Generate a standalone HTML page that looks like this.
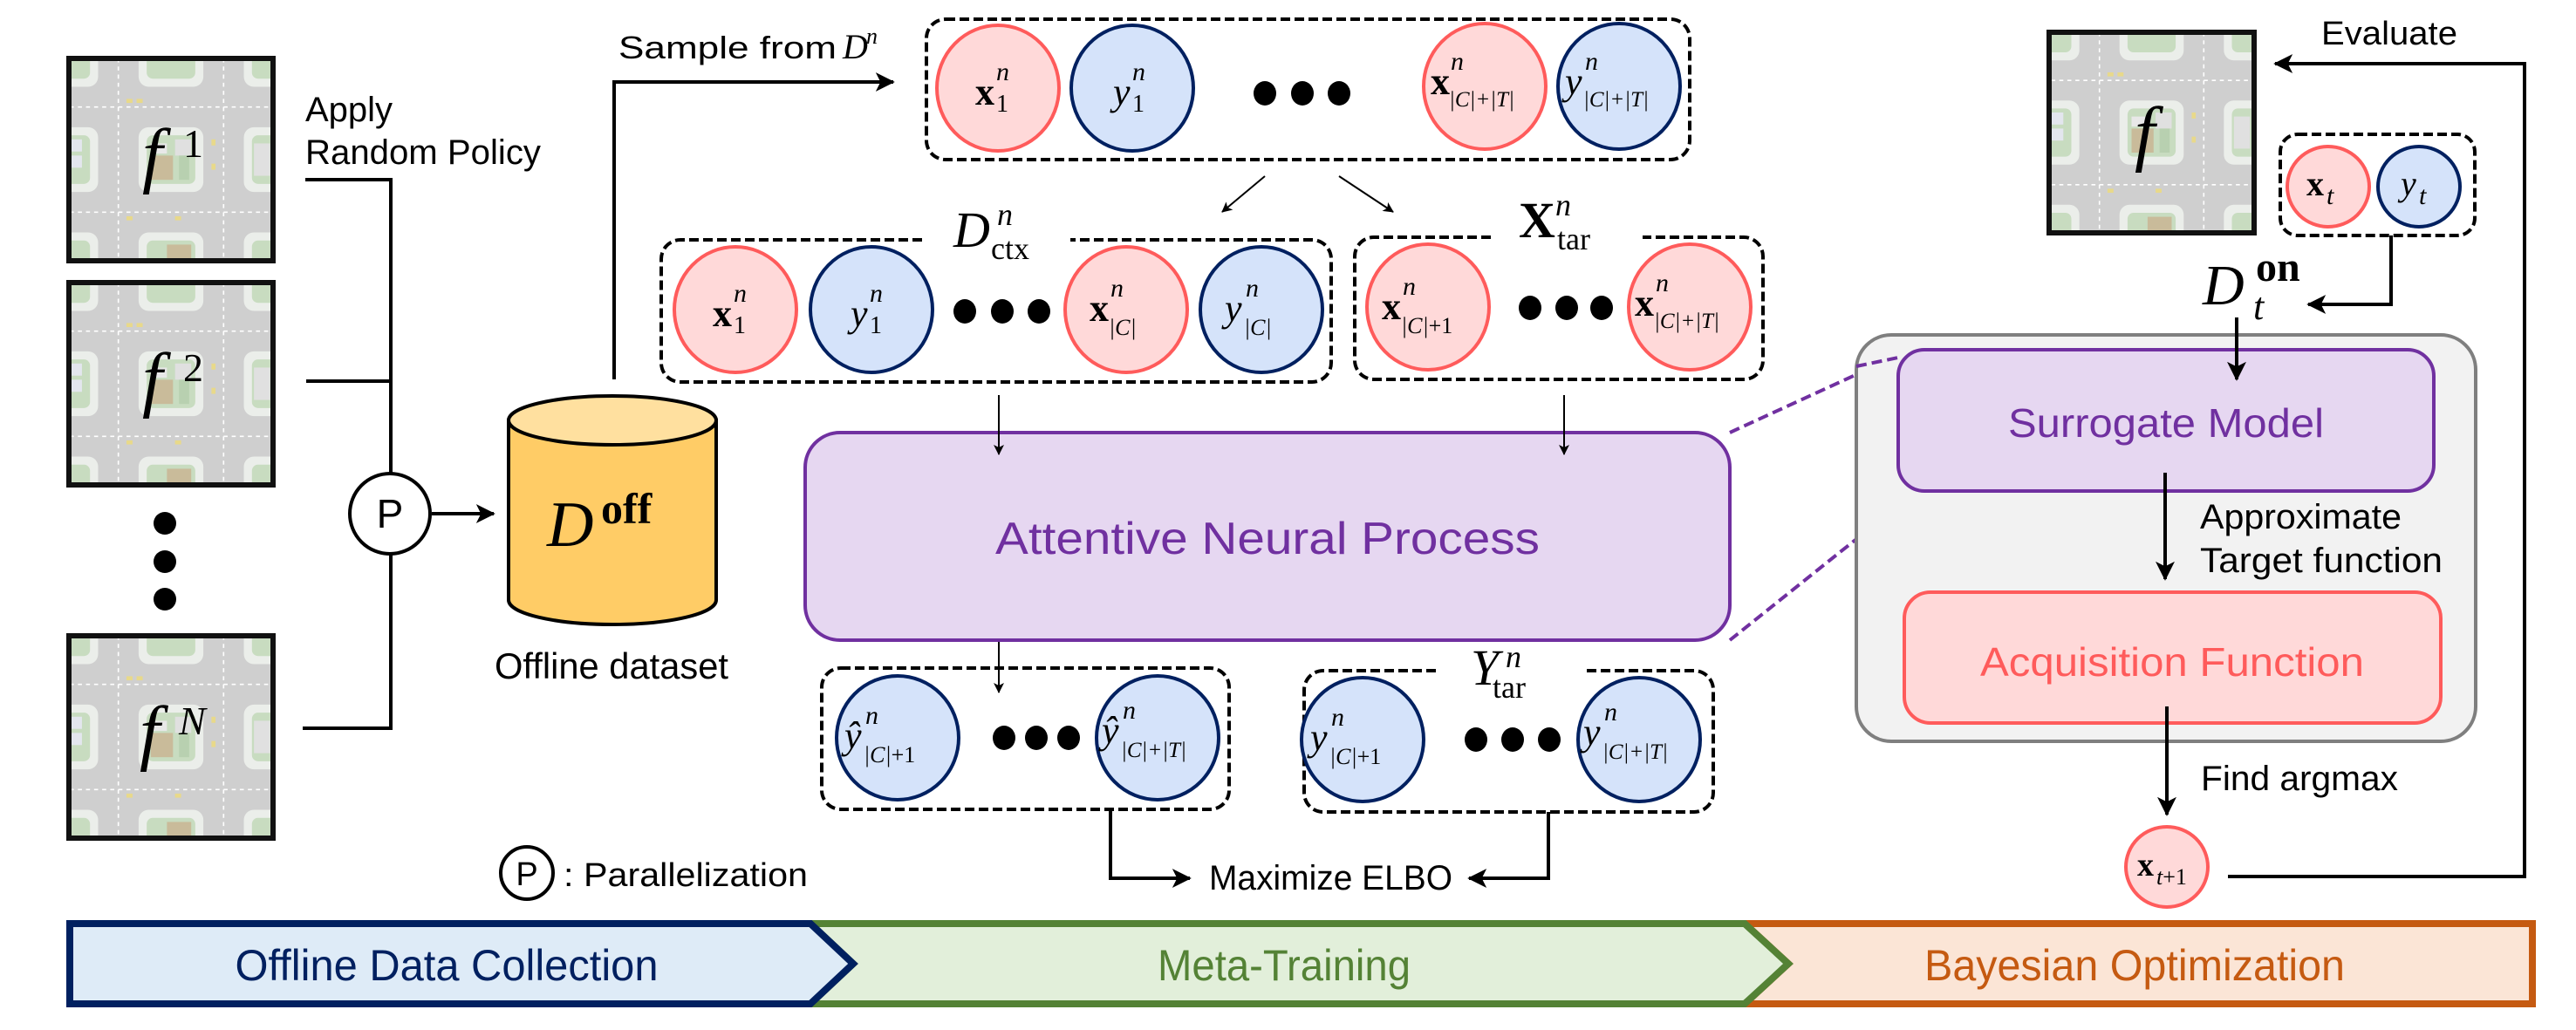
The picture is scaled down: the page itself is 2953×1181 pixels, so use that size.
<!DOCTYPE html>
<html><head><meta charset="utf-8"><style>
html,body{margin:0;padding:0;background:#fff}
svg{display:block}
.t{font-family:"Liberation Sans",sans-serif;fill:#000}
.m{font-family:"Liberation Serif",serif}
</style></head><body>
<svg width="2953" height="1181" viewBox="0 0 2953 1181" xmlns="http://www.w3.org/2000/svg">
<defs>
<marker id="ah" viewBox="0 0 12 12" refX="11" refY="6" markerWidth="12" markerHeight="12" markerUnits="userSpaceOnUse" orient="auto"><path d="M0,0 L12,6 L0,12 L3,6 Z" fill="#000"/></marker>
<marker id="ab" viewBox="0 0 12 12" refX="11" refY="6" markerWidth="22" markerHeight="22" markerUnits="userSpaceOnUse" orient="auto"><path d="M0,0 L12,6 L0,12 L3,6 Z" fill="#000"/></marker>
<symbol id="map" viewBox="0 0 100 100">
<rect width="100" height="100" fill="#cfcfcf" stroke="none"/>
<g fill="#ebeeea" stroke="none">
<rect x="-14" y="-14" width="28" height="28" rx="5"/><rect x="34" y="-14" width="32" height="28" rx="5"/><rect x="86" y="-14" width="28" height="28" rx="5"/>
<rect x="-14" y="34" width="28" height="32" rx="5"/><rect x="34" y="34" width="32" height="32" rx="5"/><rect x="86" y="34" width="28" height="32" rx="5"/>
<rect x="-14" y="86" width="28" height="28" rx="5"/><rect x="34" y="86" width="32" height="28" rx="5"/><rect x="86" y="86" width="28" height="28" rx="5"/>
</g>
<g fill="#c8dcc0" stroke="none">
<rect x="-10" y="-10" width="20" height="20" rx="3"/><rect x="38" y="-10" width="24" height="20" rx="3"/><rect x="90" y="-10" width="20" height="20" rx="3"/>
<rect x="-10" y="38" width="20" height="24" rx="3"/><rect x="38" y="38" width="24" height="24" rx="3"/><rect x="90" y="38" width="20" height="24" rx="3"/>
<rect x="-10" y="90" width="20" height="20" rx="3"/><rect x="38" y="90" width="24" height="20" rx="3"/><rect x="90" y="90" width="20" height="20" rx="3"/>
</g>
<g stroke="none">
<rect x="40" y="48" width="11" height="12" fill="#c9bb9a"/><rect x="40" y="42" width="8" height="5" fill="#e8e8e8"/>
<rect x="52" y="40" width="8" height="8" fill="#e0e0e0"/><rect x="54" y="48" width="5" height="12" fill="#b8d0b0"/>
<rect x="48" y="92" width="12" height="10" fill="#c9bb9a"/>
<rect x="-2" y="40" width="8" height="6" fill="#e3e6ee"/><rect x="-2" y="48" width="8" height="6" fill="#e3e6ee"/><rect x="91" y="42" width="8" height="16" fill="#e0e0e0"/>
</g>
<g stroke="#fff" stroke-width="0.7" stroke-dasharray="2 2" fill="none"><line x1="0" y1="24" x2="100" y2="24"/><line x1="0" y1="76" x2="100" y2="76"/><line x1="24" y1="0" x2="24" y2="100"/><line x1="76" y1="0" x2="76" y2="100"/></g>
<g fill="#e8d98a" stroke="none"><rect x="28" y="20" width="3" height="2"/><rect x="33" y="20" width="3" height="2"/><rect x="70" y="40" width="2" height="3"/><rect x="70" y="52" width="2" height="3"/><rect x="28" y="78" width="3" height="2"/><rect x="52" y="78" width="3" height="2"/></g>
</symbol>
</defs>

<!-- banners -->
<polygon points="2000,1059 2903,1059 2903,1151 2000,1151 2050,1105" fill="#fbe5d6" stroke="#c55a11" stroke-width="8"/>
<polygon points="929,1059 2000,1059 2050,1105 2000,1151 929,1151 978,1105" fill="#e2efda" stroke="#548235" stroke-width="8"/>
<polygon points="80,1059 929,1059 978,1105 929,1151 80,1151" fill="#deebf7" stroke="#002060" stroke-width="8"/>
<text class="t" x="512" y="1124" font-size="50" text-anchor="middle" style="fill:#002060" textLength="485" lengthAdjust="spacingAndGlyphs">Offline Data Collection</text>
<text class="t" x="1472" y="1124" font-size="50" text-anchor="middle" style="fill:#548235" textLength="290" lengthAdjust="spacingAndGlyphs">Meta-Training</text>
<text class="t" x="2447" y="1124" font-size="50" text-anchor="middle" style="fill:#c55a11" textLength="482" lengthAdjust="spacingAndGlyphs">Bayesian Optimization</text>

<!-- left tiles -->
<use href="#map" x="79" y="67" width="234" height="232"/>
<use href="#map" x="79" y="324" width="234" height="232"/>
<use href="#map" x="79" y="729" width="234" height="232"/>
<g stroke="#111" stroke-width="6" fill="none">
<rect x="79" y="67" width="234" height="232"/>
<rect x="79" y="324" width="234" height="232"/>
<rect x="79" y="729" width="234" height="232"/>
</g>
<g class="m" font-style="italic" fill="#000">
<text x="163" y="205" font-size="84">f</text><text x="210" y="180" font-size="46" font-style="normal">1</text>
<text x="163" y="462" font-size="84">f</text><text x="210" y="437" font-size="46" font-style="normal">2</text>
<text x="160" y="867" font-size="84">f</text><text x="205" y="842" font-size="46">N</text>
</g>
<circle cx="189" cy="600" r="13"/><circle cx="189" cy="644" r="13"/><circle cx="189" cy="687" r="13"/>
<text class="t" x="350" y="139" font-size="40">Apply</text>
<text class="t" x="350" y="188" font-size="40" textLength="270" lengthAdjust="spacingAndGlyphs">Random Policy</text>
<g stroke="#000" stroke-width="4" fill="none">
<polyline points="350,206 448,206 448,542"/><polyline points="351,437 448,437"/><polyline points="347,835 448,835 448,636"/>
<line x1="495" y1="589" x2="566" y2="589" marker-end="url(#ab)"/>
</g>
<circle cx="447" cy="589" r="46" fill="#fff" stroke="#000" stroke-width="4"/>
<text class="t" x="447" y="605" font-size="46" text-anchor="middle">P</text>
<!-- cylinder -->
<path d="M583,482 V688 A119,28 0 0 0 821,688 V482 Z" fill="#ffcc66" stroke="#000" stroke-width="4"/>
<ellipse cx="702" cy="482" rx="119" ry="28" fill="#ffe09f" stroke="#000" stroke-width="4"/>
<text class="m" x="627" y="626" font-size="74" font-style="italic">D</text>
<text class="m" x="689" y="600" font-size="50" font-weight="bold">off</text>
<text class="t" x="567" y="778" font-size="42" textLength="268" lengthAdjust="spacingAndGlyphs">Offline dataset</text>
<circle cx="604" cy="1001" r="30" fill="#fff" stroke="#000" stroke-width="4"/>
<text class="t" x="604" y="1015" font-size="38" text-anchor="middle">P</text>
<text class="t" x="646" y="1016" font-size="38" textLength="280" lengthAdjust="spacingAndGlyphs">: Parallelization</text>

<!-- sample -->
<polyline points="704,435 704,94 1024,94" fill="none" stroke="#000" stroke-width="4" marker-end="url(#ab)"/>
<text class="t" x="709" y="67" font-size="36" textLength="250" lengthAdjust="spacingAndGlyphs">Sample from</text>
<text class="m" x="966" y="67" font-size="40" font-style="italic">D</text><text class="m" x="993" y="50" font-size="26" font-style="italic">n</text>

<!-- dashed boxes -->
<g fill="none" stroke="#000" stroke-width="4" stroke-dasharray="11 5">
<rect x="1062" y="22" width="875" height="161" rx="22"/>
<path d="M1057,275 H780 A22,22 0 0 0 758,297 V416 A22,22 0 0 0 780,438 H1504 A22,22 0 0 0 1526,416 V297 A22,22 0 0 0 1504,275 H1227"/>
<path d="M1709,272 H1575 A22,22 0 0 0 1553,294 V413 A22,22 0 0 0 1575,435 H1999 A22,22 0 0 0 2021,413 V294 A22,22 0 0 0 1999,272 H1883"/>
<rect x="942" y="766" width="467" height="162" rx="22"/>
<path d="M1646,769 H1517 A22,22 0 0 0 1495,791 V909 A22,22 0 0 0 1517,931 H1942 A22,22 0 0 0 1964,909 V791 A22,22 0 0 0 1942,769 H1818"/>
<rect x="2614" y="154" width="223" height="116" rx="20"/>
</g>

<!-- circles -->
<g stroke-width="4">
<g fill="#ffd9d9" stroke="#ff5b5b">
<ellipse cx="1144" cy="101" rx="70" ry="72"/><ellipse cx="1702" cy="99" rx="70" ry="72"/>
<ellipse cx="843" cy="355" rx="70" ry="72"/><ellipse cx="1291" cy="355" rx="70" ry="72"/>
<ellipse cx="1637" cy="352" rx="70" ry="72"/><ellipse cx="1937" cy="352" rx="70" ry="72"/>
<ellipse cx="2669" cy="214" rx="47" ry="46"/><ellipse cx="2484" cy="994" rx="47" ry="46"/>
</g>
<g fill="#d5e3fa" stroke="#002060">
<ellipse cx="1298" cy="101" rx="70" ry="72"/><ellipse cx="1856" cy="99" rx="70" ry="72"/>
<ellipse cx="999" cy="355" rx="70" ry="72"/><ellipse cx="1446" cy="355" rx="70" ry="72"/>
<ellipse cx="1029" cy="846" rx="70" ry="71"/><ellipse cx="1327" cy="846" rx="70" ry="71"/>
<ellipse cx="1562" cy="848" rx="70" ry="71"/><ellipse cx="1879" cy="848" rx="70" ry="71"/>
<ellipse cx="2773" cy="214" rx="47" ry="46"/>
</g>
</g>
<!-- dots -->
<g fill="#000">
<ellipse cx="1450" cy="107" rx="13" ry="14"/><ellipse cx="1493" cy="107" rx="13" ry="14"/><ellipse cx="1535" cy="107" rx="13" ry="14"/>
<ellipse cx="1106" cy="357" rx="13" ry="14"/><ellipse cx="1149" cy="357" rx="13" ry="14"/><ellipse cx="1191" cy="357" rx="13" ry="14"/>
<ellipse cx="1754" cy="353" rx="13" ry="14"/><ellipse cx="1796" cy="353" rx="13" ry="14"/><ellipse cx="1836" cy="353" rx="13" ry="14"/>
<ellipse cx="1151" cy="846" rx="13" ry="14"/><ellipse cx="1188" cy="846" rx="13" ry="14"/><ellipse cx="1225" cy="846" rx="13" ry="14"/>
<ellipse cx="1692" cy="848" rx="13" ry="14"/><ellipse cx="1734" cy="848" rx="13" ry="14"/><ellipse cx="1776" cy="848" rx="13" ry="14"/>
</g>

<!-- circle labels -->
<g class="m" fill="#000">
<text x="1118" y="120" font-size="44" font-weight="bold">x</text><text x="1142" y="92" font-size="30" font-style="italic">n</text><text x="1142" y="128" font-size="28">1</text>
<text x="1276" y="120" font-size="44" font-style="italic">y</text><text x="1298" y="92" font-size="30" font-style="italic">n</text><text x="1298" y="128" font-size="28">1</text>
<text x="1640" y="108" font-size="44" font-weight="bold">x</text><text x="1663" y="80" font-size="30" font-style="italic">n</text><text x="1661" y="122" font-size="25" font-style="italic">|C|+|T|</text>
<text x="1794" y="108" font-size="44" font-style="italic">y</text><text x="1817" y="80" font-size="30" font-style="italic">n</text><text x="1815" y="122" font-size="25" font-style="italic">|C|+|T|</text>
<text x="817" y="374" font-size="44" font-weight="bold">x</text><text x="841" y="346" font-size="30" font-style="italic">n</text><text x="841" y="382" font-size="28">1</text>
<text x="975" y="374" font-size="44" font-style="italic">y</text><text x="997" y="346" font-size="30" font-style="italic">n</text><text x="997" y="382" font-size="28">1</text>
<text x="1249" y="368" font-size="44" font-weight="bold">x</text><text x="1273" y="340" font-size="30" font-style="italic">n</text><text x="1271" y="384" font-size="26" font-style="italic">|C|</text>
<text x="1404" y="368" font-size="44" font-style="italic">y</text><text x="1428" y="340" font-size="30" font-style="italic">n</text><text x="1426" y="384" font-size="26" font-style="italic">|C|</text>
<text x="1584" y="366" font-size="44" font-weight="bold">x</text><text x="1608" y="338" font-size="30" font-style="italic">n</text><text x="1606" y="382" font-size="26"><tspan font-style="italic">|C|</tspan>+1</text>
<text x="1874" y="362" font-size="44" font-weight="bold">x</text><text x="1898" y="334" font-size="30" font-style="italic">n</text><text x="1896" y="376" font-size="25" font-style="italic">|C|+|T|</text>
<text x="968" y="858" font-size="44" font-style="italic">ŷ</text><text x="992" y="830" font-size="30" font-style="italic">n</text><text x="990" y="874" font-size="26"><tspan font-style="italic">|C|</tspan>+1</text>
<text x="1263" y="852" font-size="44" font-style="italic">ŷ</text><text x="1287" y="824" font-size="30" font-style="italic">n</text><text x="1285" y="868" font-size="25" font-style="italic">|C|+|T|</text>
<text x="1502" y="860" font-size="44" font-style="italic">y</text><text x="1526" y="832" font-size="30" font-style="italic">n</text><text x="1524" y="876" font-size="26"><tspan font-style="italic">|C|</tspan>+1</text>
<text x="1815" y="854" font-size="44" font-style="italic">y</text><text x="1839" y="826" font-size="30" font-style="italic">n</text><text x="1837" y="870" font-size="25" font-style="italic">|C|+|T|</text>
<text x="2644" y="224" font-size="40" font-weight="bold">x</text><text x="2667" y="234" font-size="30" font-style="italic">t</text>
<text x="2752" y="224" font-size="40" font-style="italic">y</text><text x="2773" y="234" font-size="30" font-style="italic">t</text>
<text x="2450" y="1004" font-size="38" font-weight="bold">x</text><text x="2472" y="1014" font-size="26"><tspan font-style="italic">t</tspan>+1</text>
<text x="1093" y="283" font-size="58" font-style="italic">D</text><text x="1143" y="258" font-size="36" font-style="italic">n</text><text x="1136" y="297" font-size="36">ctx</text>
<text x="1741" y="272" font-size="58" font-weight="bold">X</text><text x="1783" y="247" font-size="36" font-style="italic">n</text><text x="1785" y="286" font-size="36">tar</text>
<text x="1686" y="785" font-size="58" font-style="italic">Y</text><text x="1726" y="765" font-size="36" font-style="italic">n</text><text x="1711" y="800" font-size="36">tar</text>
<text x="2525" y="349" font-size="66" font-style="italic">D</text><text x="2586" y="322" font-size="48" font-weight="bold">on</text><text x="2583" y="366" font-size="44" font-style="italic">t</text>
</g>

<!-- thin arrows -->
<g stroke="#000" stroke-width="2" fill="none">
<line x1="1450" y1="202" x2="1401" y2="243" marker-end="url(#ah)"/>
<line x1="1535" y1="202" x2="1597" y2="243" marker-end="url(#ah)"/>
<line x1="1145" y1="726" x2="1145" y2="794" marker-end="url(#ah)"/>
</g>

<!-- ANP -->
<rect x="923" y="496" width="1060" height="238" rx="40" fill="#e6d7f1" stroke="#7030a0" stroke-width="4"/>
<line x1="1145" y1="453" x2="1145" y2="521" stroke="#000" stroke-width="2" marker-end="url(#ah)"/>
<line x1="1793" y1="453" x2="1793" y2="521" stroke="#000" stroke-width="2" marker-end="url(#ah)"/>
<text class="t" x="1453" y="635" font-size="52" text-anchor="middle" style="fill:#7030a0" textLength="624" lengthAdjust="spacingAndGlyphs">Attentive Neural Process</text>

<!-- maximize -->
<g stroke="#000" stroke-width="4" fill="none">
<polyline points="1273,928 1273,1007 1364,1007" marker-end="url(#ab)"/>
<polyline points="1775,931 1775,1007 1684,1007" marker-end="url(#ab)"/>
</g>
<text class="t" x="1386" y="1020" font-size="40" textLength="279" lengthAdjust="spacingAndGlyphs">Maximize ELBO</text>

<!-- purple dashed -->
<g stroke="#7030a0" stroke-width="4" stroke-dasharray="12 6">
<line x1="1983" y1="496" x2="2190" y2="401"/><line x1="1983" y1="734" x2="2197" y2="563"/>
</g>

<!-- right side -->
<use href="#map" x="2349" y="37" width="235" height="230"/>
<rect x="2349" y="37" width="235" height="230" fill="none" stroke="#111" stroke-width="6"/>
<text class="m" x="2447" y="180" font-size="84" font-style="italic">f</text>
<text class="t" x="2661" y="51" font-size="38" textLength="156" lengthAdjust="spacingAndGlyphs">Evaluate</text>
<g stroke="#000" stroke-width="4" fill="none">
<polyline points="2554,1005 2894,1005 2894,73 2608,73" marker-end="url(#ab)"/>
<polyline points="2741,270 2741,349 2646,349" marker-end="url(#ab)"/>
</g>
<rect x="2128" y="384" width="710" height="466" rx="40" fill="#f2f2f2" stroke="#7f7f7f" stroke-width="4"/>
<line x1="2128" y1="420" x2="2176" y2="410" stroke="#7030a0" stroke-width="4" stroke-dasharray="12 6"/>
<rect x="2176" y="401" width="614" height="162" rx="30" fill="#e6d7f1" stroke="#7030a0" stroke-width="4"/>
<text class="t" x="2483" y="501" font-size="46" text-anchor="middle" style="fill:#7030a0" textLength="362" lengthAdjust="spacingAndGlyphs">Surrogate Model</text>
<rect x="2183" y="679" width="615" height="150" rx="30" fill="#ffd9d9" stroke="#ff5b5b" stroke-width="4"/>
<text class="t" x="2490" y="775" font-size="46" text-anchor="middle" style="fill:#ff5b5b" textLength="440" lengthAdjust="spacingAndGlyphs">Acquisition Function</text>
<g stroke="#000" stroke-width="4" fill="none">
<line x1="2564" y1="364" x2="2564" y2="435" marker-end="url(#ab)"/>
<line x1="2482" y1="542" x2="2482" y2="664" marker-end="url(#ab)"/>
<line x1="2484" y1="810" x2="2484" y2="934" marker-end="url(#ab)"/>
</g>
<text class="t" x="2522" y="606" font-size="40" textLength="231" lengthAdjust="spacingAndGlyphs">Approximate</text>
<text class="t" x="2522" y="656" font-size="40" textLength="278" lengthAdjust="spacingAndGlyphs">Target function</text>
<text class="t" x="2523" y="906" font-size="40" textLength="226" lengthAdjust="spacingAndGlyphs">Find argmax</text>
</svg>
</body></html>
